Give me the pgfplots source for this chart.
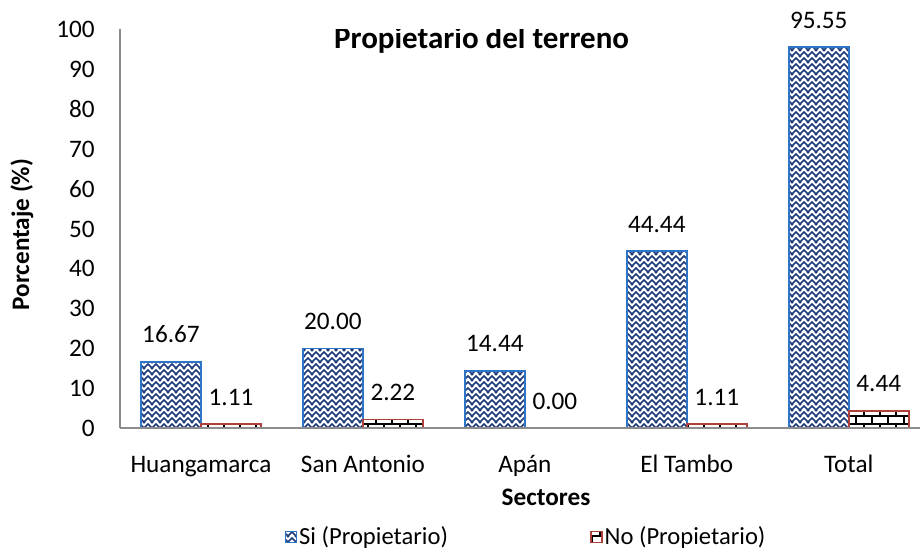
\documentclass[border=0pt]{standalone}
\usepackage{fontspec}
\setmainfont{Carlito}
\usepackage{pgfplots}
\pgfplotsset{compat=1.18}
\usetikzlibrary{patterns}
\definecolor{siblue}{HTML}{2E75C8}
\definecolor{sinavy}{HTML}{1F3A7A}
\definecolor{nored}{HTML}{B0403C}
\definecolor{axgray}{HTML}{8C8C8C}
\newcommand\lbl{\fontsize{12.6}{15}\selectfont}

\pgfdeclarepatternformonly{weave}{\pgfqpoint{-0.5pt}{-0.5pt}}{\pgfqpoint{4.5pt}{3.5pt}}{\pgfqpoint{4pt}{3pt}}{%
  \pgfsetlinewidth{0.8pt}%
  \pgfpathmoveto{\pgfqpoint{0pt}{0pt}}%
  \pgfpathlineto{\pgfqpoint{2pt}{2pt}}%
  \pgfpathlineto{\pgfqpoint{4pt}{0pt}}%
  \pgfpathmoveto{\pgfqpoint{0pt}{3pt}}%
  \pgfpathlineto{\pgfqpoint{0.5pt}{2.5pt}}%
  \pgfpathmoveto{\pgfqpoint{4pt}{3pt}}%
  \pgfpathlineto{\pgfqpoint{3.5pt}{2.5pt}}%
  \pgfusepath{stroke}}

\pgfdeclarepatternformonly{mybricks}{\pgfqpoint{-0.5pt}{-0.5pt}}{\pgfqpoint{8.5pt}{8.5pt}}{\pgfqpoint{8pt}{8pt}}{%
  \pgfsetlinewidth{0.9pt}%
  \pgfpathmoveto{\pgfqpoint{0pt}{0pt}}\pgfpathlineto{\pgfqpoint{8pt}{0pt}}%
  \pgfpathmoveto{\pgfqpoint{0pt}{4pt}}\pgfpathlineto{\pgfqpoint{8pt}{4pt}}%
  \pgfpathmoveto{\pgfqpoint{0pt}{0pt}}\pgfpathlineto{\pgfqpoint{0pt}{4pt}}%
  \pgfpathmoveto{\pgfqpoint{4pt}{4pt}}\pgfpathlineto{\pgfqpoint{4pt}{8pt}}%
  \pgfusepath{stroke}}

\begin{document}
\begin{tikzpicture}
\begin{axis}[
  scale only axis,
  width=400pt, height=199.5pt,
  ybar=0pt, bar width=30pt,
  xmin=-0.5, xmax=4.44,
  ymin=0, ymax=100,
  ytick={0,10,...,100},
  xtick={0,1,2,3,4},
  xticklabels={Huangamarca,San Antonio,Apán,El Tambo,Total},
  axis x line=bottom, axis y line=left,
  axis line style={draw=axgray, line width=1pt, -},
  axis on top,
  major tick length=0pt,
  /pgf/number format/assume math mode=true,
  tick label style={font=\lbl, inner sep=0pt},
  yticklabel style={anchor=east, xshift=-12.5pt},
  xticklabel style={anchor=base, yshift=-22pt},
  ylabel={Porcentaje (\%)},
  every axis y label/.style={at={(axis description cs:-0.1225,0.486)}, rotate=90, anchor=center, font=\bfseries\lbl},
  xlabel={Sectores},
  every axis x label/.style={at={(axis description cs:0.5325,0)}, anchor=base, yshift=-38.5pt, font=\bfseries\lbl},
  nodes near coords={\pgfmathprintnumber[fixed,fixed zerofill,precision=2]{\pgfplotspointmeta}},
  every node near coord/.append style={font=\lbl, anchor=base, yshift=9.5pt, inner sep=0pt, black},
  legend columns=2,
  legend image code/.code={\draw[#1] (0pt,-2.75pt) rectangle (5.5pt,2.75pt);},
  legend style={at={(axis description cs:0.5075,-0.272)}, anchor=center, draw=none, fill=none,
    font=\fontsize{12.3}{15}\selectfont, inner sep=0pt,
    nodes={inner sep=1pt},
    /tikz/every even column/.append style={column sep=70pt}},
]
\addplot[draw=siblue, line width=0.8pt, pattern=weave, pattern color=sinavy]
  coordinates {(0,16.67) (1,20.00) (2,14.44) (3,44.44) (4,95.55)};
\addlegendentry{Si (Propietario)}
\addplot[draw=nored, line width=0.8pt, pattern=mybricks, pattern color=black]
  coordinates {(0,1.11) (1,2.22) (2,0.00) (3,1.11) (4,4.44)};
\addlegendentry{No (Propietario)}
\node[anchor=base, inner sep=0pt, font=\bfseries\fontsize{15.5}{18}\selectfont]
  at (axis description cs:0.452,0.952) {Propietario del terreno};
\end{axis}
\pgfresetboundingbox
\path[use as bounding box] (-60pt,-65.75pt) rectangle (400pt,214.25pt);
\end{tikzpicture}
\end{document}
